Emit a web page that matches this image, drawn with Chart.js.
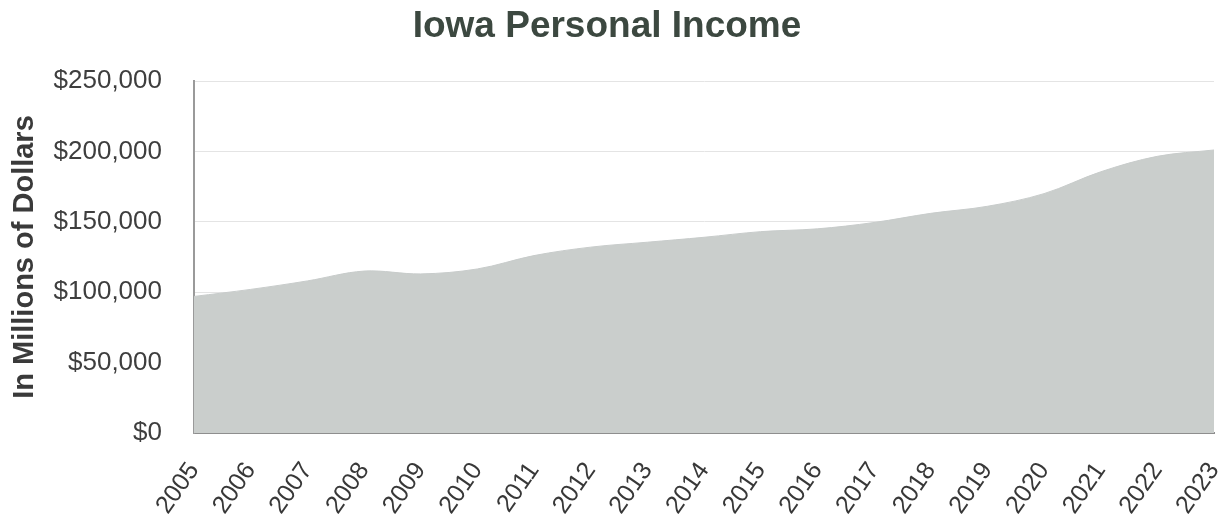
<!DOCTYPE html>
<html>
<head>
<meta charset="utf-8">
<title>Iowa Personal Income</title>
<script src="https://cdn.jsdelivr.net/npm/chart.js@4/dist/chart.umd.min.js"></script>
<style>
  html, body { margin: 0; padding: 0; background: #ffffff; }
  #wrap { width: 1219px; height: 520px; position: relative; }
</style>
</head>
<body>
<div id="wrap"><canvas id="chart" width="1219" height="520"></canvas></div>
<script>
// Annual personal income for Iowa, in millions of dollars
const years = ['2005','2006','2007','2008','2009','2010','2011','2012','2013','2014',
               '2015','2016','2017','2018','2019','2020','2021','2022','2023'];
const personalIncome = [97000, 102000, 108000, 115000, 113000, 116500, 126000, 132000, 135500, 139000,
                        143000, 145000, 149500, 156000, 161000, 170000, 185500, 196500, 201000];
const yTickValues = [0, 50000, 100000, 150000, 200000, 250000];

const FONT = "'Liberation Sans', Arial, Helvetica, sans-serif";
const fmtDollars = v => '$' + Number(v).toLocaleString('en-US');

new Chart(document.getElementById('chart'), {
  type: 'line',
  data: {
    labels: years,
    datasets: [{
      label: 'Personal Income',
      data: personalIncome,
      fill: 'origin',
      backgroundColor: '#caceccff',
      borderColor: '#c8cccb',
      borderWidth: 1,
      pointRadius: 0,
      tension: 0.35
    }]
  },
  options: {
    responsive: false,
    animation: false,
    layout: { padding: { left: 0, right: 5, top: 0, bottom: 0 } },
    plugins: {
      legend: { display: false },
      tooltip: { enabled: false },
      title: {
        display: true,
        text: 'Iowa Personal Income',
        color: '#3c4840',
        font: { family: FONT, size: 37, weight: 'bold' },
        padding: { top: 5, bottom: 31.6 }
      }
    },
    scales: {
      x: {
        type: 'category',
        offset: false,
        grid: { display: false, drawTicks: false },
        border: { display: true, color: '#8e8e8e', width: 2 },
        ticks: {
          color: '#383838',
          font: { family: FONT, size: 25 },
          maxRotation: 55,
          minRotation: 55,
          autoSkip: false,
          padding: 24
        },
        afterFit: s => { s.height = 87; s.paddingLeft = 0; s.paddingRight = 0; }
      },
      y: {
        min: 0,
        max: 250000,
        afterBuildTicks: s => { s.ticks = yTickValues.map(v => ({ value: v })); },
        grid: { color: '#e4e4e4', lineWidth: 1, drawTicks: false },
        border: { display: true, color: '#9a9a9a', width: 2 },
        ticks: {
          color: '#3e3e3e',
          font: { family: FONT, size: 26 },
          padding: 32,
          callback: v => fmtDollars(v)
        },
        title: {
          display: true,
          text: 'In Millions of Dollars',
          color: '#3a3a3a',
          font: { family: FONT, size: 29, weight: 'bold' },
          padding: { top: 8, bottom: 0 }
        },
        afterFit: s => { s.width = 194; }
      }
    }
  }
});
</script>
</body>
</html>
